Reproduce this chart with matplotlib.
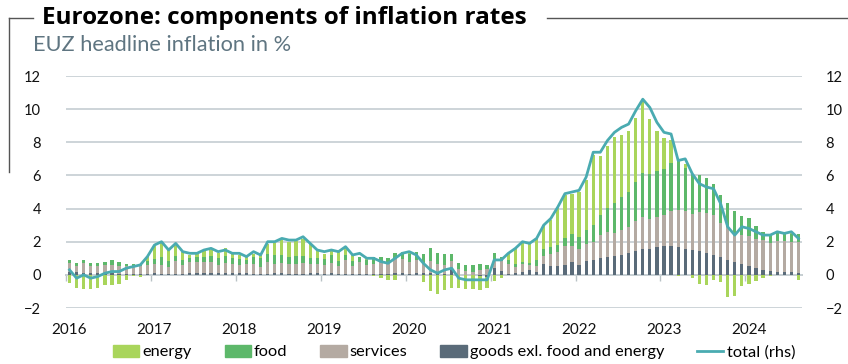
import numpy as np
import pandas as pd
import matplotlib
matplotlib.use("Agg")
from matplotlib import pyplot as plt
from matplotlib.lines import Line2D
from matplotlib.patches import Patch

plt.rcParams['font.family'] = ['Lato', 'DejaVu Sans']

# monthly data, Jan 2016 - Aug 2024, contributions in pp, total in %
months = pd.date_range('2016-01-01', '2024-08-01', freq='MS')

energy = [
    -0.51, -0.77, -0.83, -0.83, -0.77, -0.61, -0.64, -0.53, -0.29, -0.09, -0.10, 0.25,
    0.79, 0.90, 0.72, 0.74, 0.44, 0.18, 0.21, 0.39, 0.38, 0.29, 0.46, 0.28,
    0.21, 0.20, 0.19, 0.25, 0.58, 0.76, 0.90, 0.87, 0.90, 1.02, 0.86, 0.52,
    0.26, 0.35, 0.51, 0.51, 0.36, 0.02, 0.05, -0.06, -0.17, -0.30, -0.31, 0.02,
    0.19, -0.03, -0.44, -0.95, -1.17, -0.91, -0.82, -0.76, -0.80, -0.80, -0.81, -0.68,
    -0.39, -0.16, 0.40, 0.97, 1.22, 1.17, 1.33, 1.43, 1.64, 2.20, 2.56, 2.42,
    2.74, 3.04, 4.21, 3.56, 3.71, 3.99, 3.76, 3.67, 3.87, 4.40, 3.32, 2.42,
    1.89, 1.37, -0.09, 0.24, -0.18, -0.56, -0.61, -0.33, -0.46, -1.35, -1.30, -0.67,
    -0.58, -0.35, -0.17, -0.06, 0.03, 0.02, 0.11, -0.29,
]
food = [
    0.20, 0.16, 0.16, 0.16, 0.18, 0.18, 0.27, 0.25, 0.14, 0.10, 0.14, 0.24,
    0.33, 0.49, 0.35, 0.29, 0.29, 0.25, 0.27, 0.27, 0.37, 0.43, 0.43, 0.41,
    0.37, 0.20, 0.41, 0.51, 0.51, 0.53, 0.49, 0.47, 0.51, 0.43, 0.37, 0.35,
    0.35, 0.45, 0.29, 0.29, 0.31, 0.31, 0.27, 0.39, 0.33, 0.27, 0.35, 0.39,
    0.46, 0.48, 0.50, 0.76, 0.67, 0.67, 0.42, 0.36, 0.38, 0.40, 0.40, 0.27,
    0.33, 0.28, 0.24, 0.15, 0.13, 0.11, 0.35, 0.43, 0.41, 0.41, 0.48, 0.69,
    0.70, 0.84, 1.00, 1.26, 1.50, 1.78, 1.96, 2.12, 2.36, 2.67, 2.72, 2.76,
    2.72, 2.90, 2.99, 2.61, 2.41, 2.24, 2.08, 1.87, 1.70, 1.43, 1.33, 1.18,
    1.08, 0.75, 0.50, 0.54, 0.50, 0.48, 0.44, 0.46,
]
services = [
    0.50, 0.37, 0.58, 0.42, 0.42, 0.46, 0.50, 0.46, 0.46, 0.46, 0.46, 0.54,
    0.50, 0.54, 0.42, 0.75, 0.54, 0.66, 0.66, 0.66, 0.62, 0.50, 0.62, 0.50,
    0.50, 0.55, 0.63, 0.42, 0.67, 0.55, 0.59, 0.55, 0.55, 0.63, 0.55, 0.55,
    0.54, 0.63, 0.50, 0.86, 0.45, 0.72, 0.54, 0.59, 0.68, 0.68, 0.86, 0.81,
    0.70, 0.74, 0.60, 0.74, 0.60, 0.56, 0.42, 0.33, 0.23, 0.19, 0.28, 0.33,
    0.59, 0.55, 0.55, 0.38, 0.46, 0.29, 0.38, 0.46, 0.71, 0.88, 1.13, 1.01,
    0.97, 1.05, 1.13, 1.39, 1.47, 1.43, 1.55, 1.60, 1.81, 1.90, 1.76, 1.85,
    1.92, 2.10, 2.23, 2.27, 2.19, 2.36, 2.45, 2.40, 2.05, 2.01, 1.75, 1.75,
    1.82, 1.77, 1.82, 1.68, 1.87, 1.87, 1.82, 1.91,
]
goods = [
    0.19, 0.19, 0.13, 0.13, 0.13, 0.11, 0.11, 0.08, 0.08, 0.08, 0.08, 0.08,
    0.13, 0.05, 0.08, 0.08, 0.08, 0.11, 0.13, 0.13, 0.13, 0.11, 0.11, 0.13,
    0.11, 0.13, 0.05, 0.08, 0.08, 0.11, 0.13, 0.08, 0.08, 0.08, 0.11, 0.11,
    0.08, 0.11, 0.05, 0.05, 0.08, 0.05, 0.08, 0.08, 0.08, 0.08, 0.11, 0.13,
    0.08, 0.13, 0.13, 0.10, 0.05, 0.05, 0.42, -0.03, -0.03, -0.03, -0.08, -0.13,
    0.39, 0.26, 0.08, 0.10, 0.18, 0.31, 0.18, 0.68, 0.55, 0.52, 0.62, 0.75,
    0.60, 0.81, 0.88, 0.99, 1.09, 1.12, 1.17, 1.30, 1.43, 1.59, 1.59, 1.66,
    1.72, 1.75, 1.70, 1.59, 1.49, 1.41, 1.29, 1.21, 1.05, 0.90, 0.75, 0.64,
    0.51, 0.41, 0.28, 0.23, 0.18, 0.18, 0.18, 0.10,
]
total = [
    0.3, -0.2, 0.0, -0.2, -0.1, 0.1, 0.2, 0.2, 0.4, 0.5, 0.6, 1.1,
    1.8, 2.0, 1.5, 1.9, 1.4, 1.3, 1.3, 1.5, 1.6, 1.4, 1.5, 1.3,
    1.3, 1.1, 1.4, 1.2, 2.0, 2.0, 2.2, 2.1, 2.1, 2.3, 1.9, 1.5,
    1.4, 1.5, 1.4, 1.7, 1.2, 1.3, 1.0, 1.0, 0.8, 0.7, 1.0, 1.3,
    1.4, 1.2, 0.7, 0.3, 0.1, 0.3, 0.4, -0.2, -0.3, -0.3, -0.3, -0.3,
    0.9, 0.9, 1.3, 1.6, 2.0, 1.9, 2.2, 3.0, 3.4, 4.1, 4.9, 5.0,
    5.1, 5.9, 7.4, 7.4, 8.1, 8.6, 8.9, 9.1, 9.9, 10.6, 10.1, 9.2,
    8.6, 8.5, 6.9, 7.0, 6.1, 5.5, 5.3, 5.2, 4.3, 2.9, 2.4, 2.9,
    2.8, 2.6, 2.4, 2.4, 2.6, 2.5, 2.6, 2.2,
]
years = list(range(2016, 2025))

c_energy = '#a9d55b'
c_food = '#5db86a'
c_services = '#b4aaa2'
c_goods = '#5a6b79'
c_total = '#4aabb1'
c_grid = '#c9d1d5'

W, H = 848, 364
fig = plt.figure(figsize=(W / 100, H / 100), dpi=100)
ax = fig.add_axes([66 / W, 56 / H, 736 / W, 232 / H])

x = np.arange(len(months))
comps = [(goods, c_goods), (services, c_services), (food, c_food), (energy, c_energy)]
pos_base = np.zeros(len(x))
neg_base = np.zeros(len(x))
for vals, col in comps:
    v = np.array(vals)
    base = np.where(v >= 0, pos_base, neg_base)
    ax.bar(x, v, bottom=base, width=0.45, color=col, linewidth=0, zorder=2)
    pos_base += np.clip(v, 0, None)
    neg_base += np.clip(v, None, 0)

ax.plot(x, total, color=c_total, lw=2.0, zorder=3, solid_joinstyle='round')

ax.set_xlim(-0.5, len(x) - 0.5)
ax.set_ylim(-2, 12)
ax.set_yticks(range(-2, 13, 2))
ax.grid(axis='y', color=c_grid, lw=1.3, zorder=0)
ax.set_axisbelow(True)
for s in ax.spines.values():
    s.set_visible(False)
ax.tick_params(axis='y', length=0, pad=18, labelsize=10.5, labelcolor='#111111')

# year labels below the plot, tick marks on the zero line
year_idx = [list(months.year).index(y) for y in years]
ax.set_xticks(year_idx)
ax.set_xticklabels([str(y) for y in years])
ax.tick_params(axis='x', length=0, pad=11, labelsize=11, labelcolor='#111111')

zero_ax = ax.secondary_xaxis(2 / 14)
zero_ax.set_xticks([i - 0.5 for i in year_idx])
zero_ax.set_xticklabels([])
zero_ax.tick_params(axis='x', direction='out', length=4, width=1, color='#b9c2c6')
zero_ax.spines['bottom'].set_color('#b9c2c6')
zero_ax.spines['bottom'].set_linewidth(1.3)

rax = ax.twinx()
rax.set_ylim(ax.get_ylim())
rax.set_yticks(range(-2, 13, 2))
for s in rax.spines.values():
    s.set_visible(False)
rax.tick_params(axis='y', length=0, pad=17, labelsize=10.5, labelcolor='#111111')

handles = [
    Patch(color=c_energy, label='energy'),
    Patch(color=c_food, label='food'),
    Patch(color=c_services, label='services'),
    Patch(color=c_goods, label='goods exl. food and energy'),
    Line2D([], [], color=c_total, lw=2.0, label='total (rhs)'),
]
fig.legend(handles=handles, loc='center', bbox_to_anchor=(454 / W, 1 - 352 / H),
           ncol=5, frameon=False, fontsize=11.8, handlelength=1.6,
           handleheight=0.75, handletextpad=0.2, columnspacing=2.0)

fig.text(42 / W, 1 - 18 / H, 'Eurozone: components of inflation rates',
         family=['Open Sans', 'DejaVu Sans'], fontsize=17.5, fontweight='bold',
         color='black', va='center', ha='left')
fig.text(33 / W, 1 - 45 / H, 'EUZ headline inflation in %',
         fontsize=15.7, color='#5f7581', va='center', ha='left')

# frame lines around the heading
fc = '#555555'
fig.add_artist(Line2D([9 / W, 33 / W], [1 - 18 / H, 1 - 18 / H], color=fc, lw=1.0))
fig.add_artist(Line2D([9 / W, 9 / W], [1 - 18 / H, 1 - 172 / H], color=fc, lw=1.0))
fig.add_artist(Line2D([547 / W, 1.0], [1 - 18 / H, 1 - 18 / H], color=fc, lw=1.0))

fig.savefig('out.png', dpi=100)
